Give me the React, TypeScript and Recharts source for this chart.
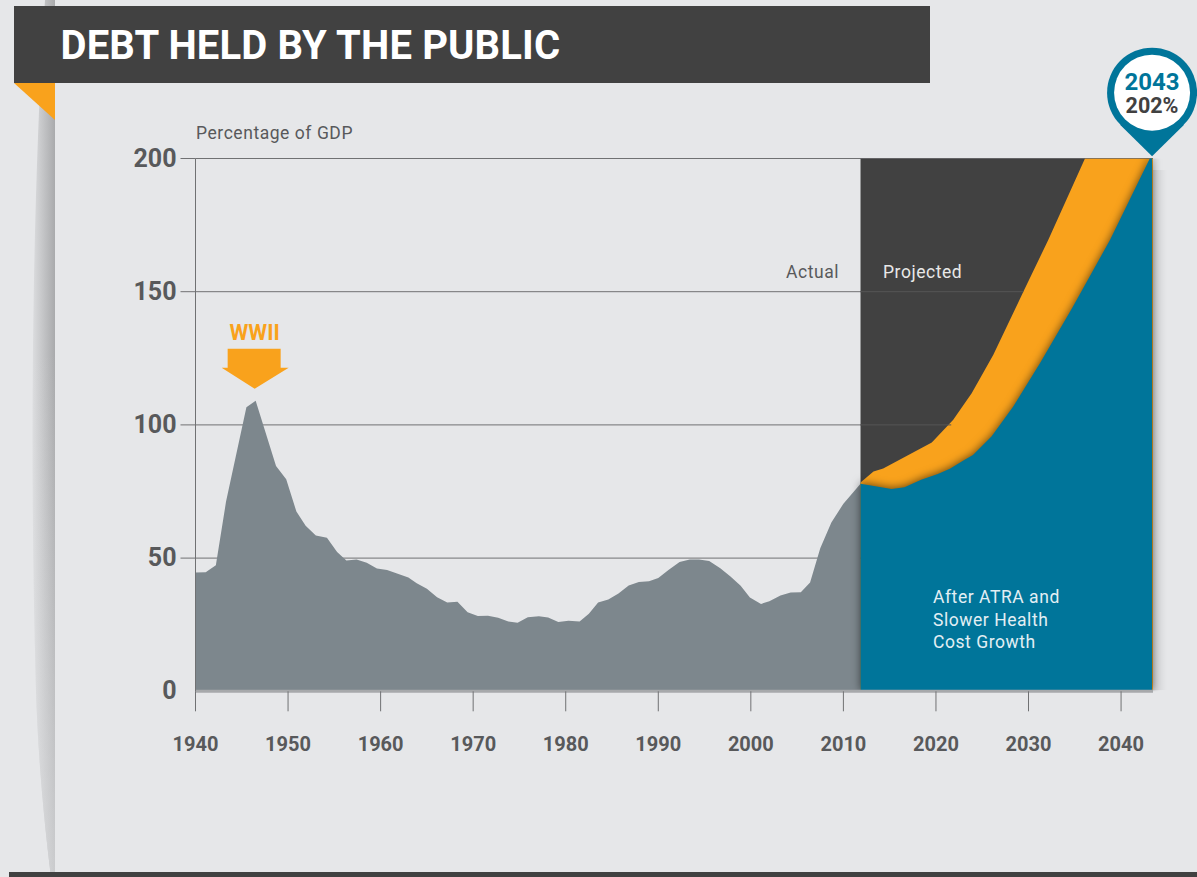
import { Area, ComposedChart, CartesianGrid, Line, ReferenceDot, XAxis, YAxis } from "recharts"

const FONT = "Roboto, sans-serif"
const PAGE = "#e6e7e9"
const DARK = "#414141"
const GREY = "#7d878d"
const BLUE = "#00759a"
const ORANGE = "#f9a21c"
const INK = "#58595b"
const RULE = "#707173"

const X_TICKS = [1940, 1950, 1960, 1970, 1980, 1990, 2000, 2010, 2020, 2030, 2040]
const Y_TICKS = [0, 50, 100, 150, 200]

// Historical debt, share of GDP
const actualYears = [
  1940, 1941.1, 1942.2, 1943.3, 1945.5, 1946.5, 1948.7, 1949.8, 1950.9, 1951.9, 1953, 1954.2, 1955.3,
  1956.3, 1957.4, 1958.5, 1959.6, 1960.7, 1963, 1963.9, 1965, 1966.1, 1967.2, 1968.3, 1969.4, 1970.5,
  1971.6, 1972.7, 1973.8, 1974.8, 1975.9, 1977.1, 1978.1, 1979.2, 1980.3, 1981.5, 1982.5, 1983.5,
  1984.6, 1985.7, 1986.8, 1987.9, 1989, 1990, 1991.1, 1992.3, 1993.4, 1994.4, 1995.5, 1996.7, 1997.8,
  1998.9, 1999.9, 2001.1, 2002, 2003.2, 2004.3, 2005.4, 2006.4, 2007.5, 2008.7, 2010, 2011.85,
]
const actualShare = [
  44.6, 44.7, 47.3, 71.2, 106.6, 109.1, 84.6, 79.6, 67.5, 62.1, 58.5, 57.6, 52.3,
  49.1, 49.5, 48.3, 46.1, 45.5, 42.7, 40.6, 38.5, 35.3, 33.3, 33.6, 29.7, 28.3,
  28.4, 27.6, 26.2, 25.7, 27.8, 28.2, 27.7, 26, 26.5, 26.2, 29.1, 33.3,
  34.5, 36.7, 39.7, 41, 41.3, 42.5, 45.5, 48.5, 49.5, 49.5, 48.9, 46.2, 43.1,
  39.6, 35.2, 32.8, 33.8, 36, 37.1, 37.2, 40.8, 53.7, 63.4, 70.4, 77.9,
]

// Projection after ATRA and slower health cost growth
const blueYears = [
  2011.85, 2013.3, 2015.2, 2016.6, 2018.4, 2020.2, 2021.5, 2023.1, 2024, 2026,
  2028.35, 2031.25, 2034.7, 2038.8, 2043.1, 2043.35,
]
const blueShare = [
  77.9, 77.1, 75.9, 76.6, 79.4, 81.6, 83.5, 86.9, 88.7, 95.6,
  106.9, 123.2, 143.8, 169.4, 200, 202,
]

// Wider projection without those assumptions; it leaves the scale at the top
const orangeYears = [
  2011.85, 2013.25, 2014.3, 2019.55, 2021.87, 2022.6, 2023.86, 2026.2, 2029.44, 2032.13, 2036.1, 2043.45,
]
const orangeShare = [78.4, 82.5, 83.6, 93.4, 101.9, 105.6, 111.9, 126.3, 150, 169.4, 200, 200]

const bandYears = [2011.85, 2043.45]
const bandTop = [200, 200]

// Gridlines stay faintly visible on the dark band, up to the orange edge
const rule150Years = [2011.85, 2029.44]
const rule150 = [150, 150]
const rule100Years = [2011.85, 2021.65]
const rule100 = [100, 100]

const zip = (xs: number[], ys: number[]) => xs.map((year, i) => ({ year, value: ys[i] }))

function YTick({ x, y, payload }: any) {
  return (
    <g>
      {payload.value !== 0 && <line x1={x - 15} x2={x} y1={y} y2={y} stroke={RULE} />}
      <text x={x - 19} y={y + 8} textAnchor="end" fontFamily={FONT} fontWeight={700} fontSize={25} fill={INK}>
        {payload.value}
      </text>
    </g>
  )
}

function WarArrow({ cx, cy }: any) {
  const tip = cy - 12
  return (
    <g>
      <text x={cx - 1} y={tip - 49} textAnchor="middle" fontFamily={FONT} fontWeight={700} fontSize={21.5} fill={ORANGE}>
        WWII
      </text>
      <polygon
        fill={ORANGE}
        points={`${cx - 28},${tip - 40} ${cx + 25},${tip - 40} ${cx + 25},${tip - 21} ${cx + 33},${tip - 21} ${cx - 1},${tip} ${cx - 34},${tip - 21} ${cx - 28},${tip - 21}`}
      />
    </g>
  )
}

function EndPin({ cx, cy }: any) {
  const tipY = cy + 3
  const midY = tipY - 63.5
  return (
    <g>
      <circle cx={cx} cy={midY} r={45} fill={BLUE} />
      <polygon points={`${cx},${tipY} ${cx - 32},${midY + 32} ${cx + 32},${midY + 32}`} fill={BLUE} />
      <circle cx={cx} cy={midY} r={38} fill="#fff" />
      <text x={cx} y={midY - 3} textAnchor="middle" fontFamily={FONT} fontWeight={700} fontSize={24} fill={BLUE}>
        2043
      </text>
      <text x={cx} y={midY + 20} textAnchor="middle" fontFamily={FONT} fontWeight={700} fontSize={21.5} fill={DARK}>
        202%
      </text>
    </g>
  )
}

function Backdrop() {
  const ribbon = "M45 0 C35 150 28 400 36 690 C38 760 45 830 51 877 L55 877 L55 0 Z"
  return (
    <svg width={1197} height={877} style={{ position: "absolute", left: 0, top: 0 }}>
      <defs>
        <linearGradient id="ribbon" x1="0" x2="1" y1="0" y2="0">
          <stop offset="0" stopColor="#dcdddf" />
          <stop offset="1" stopColor="#a9aaac" />
        </linearGradient>
        <linearGradient id="ribbonFade" x1="0" x2="0" y1="0" y2="1">
          <stop offset="0.4" stopColor={PAGE} stopOpacity={0} />
          <stop offset="1" stopColor={PAGE} stopOpacity={0.55} />
        </linearGradient>
        <linearGradient id="edgeShade" x1="0" x2="1" y1="0" y2="0">
          <stop offset="0" stopColor="#000" stopOpacity={0.1} />
          <stop offset="1" stopColor="#000" stopOpacity={0} />
        </linearGradient>
      </defs>
      <path d={ribbon} fill="url(#ribbon)" />
      <path d={ribbon} fill="url(#ribbonFade)" />
      <rect x={1153} y={170} width={14} height={520} fill="url(#edgeShade)" />
      <rect x={14} y={6} width={916} height={77} fill={DARK} />
      <polygon points="14,83 55,83 55,120" fill={ORANGE} />
      <rect x={9} y={872} width={1188} height={5} fill={DARK} />
      <text x={60.5} y={59} fontFamily={FONT} fontWeight={700} fontSize={40} letterSpacing={0.15} fill="#fff">
        DEBT HELD BY THE PUBLIC
      </text>
    </svg>
  )
}

function Notes() {
  const note = { fontFamily: FONT, fontSize: 17.5, letterSpacing: 0.55 }
  return (
    <svg width={1197} height={877} style={{ position: "absolute", left: 0, top: 0, pointerEvents: "none" }}>
      <text x={196} y={139} {...note} fill={INK}>Percentage of GDP</text>
      <text x={786} y={278} {...note} fill={INK}>Actual</text>
      <text x={883} y={278} {...note} fill="#e8e8e8">Projected</text>
      <text x={933} y={603} {...note} fill="#e3eff4">After ATRA and</text>
      <text x={933} y={626} {...note} fill="#e3eff4">Slower Health</text>
      <text x={933} y={648} {...note} fill="#e3eff4">Cost Growth</text>
    </svg>
  )
}

export default function App() {
  return (
    <div style={{ position: "absolute", left: 0, top: 0, width: 1197, height: 877, overflow: "hidden", background: PAGE }}>
      <Backdrop />
      <div style={{ position: "absolute", left: 0, top: 0 }}>
        <ComposedChart width={1197} height={877} margin={{ top: 158.5, right: 44, bottom: 0, left: 0 }} style={{ overflow: "visible" }}>
          <CartesianGrid horizontal vertical={false} stroke={RULE} syncWithTicks />
          <XAxis
            dataKey="year"
            type="number"
            domain={[1940, 2043.45]}
            ticks={X_TICKS}
            height={185.7}
            interval={0}
            tickSize={20}
            tickMargin={25}
            axisLine={{ stroke: "#a7a9ab", strokeWidth: 3 }}
            tickLine={{ stroke: RULE }}
            tick={{ fontFamily: FONT, fontWeight: 700, fontSize: 20, fill: INK }}
          />
          <YAxis
            type="number"
            domain={[0, 200]}
            ticks={Y_TICKS}
            width={195.5}
            allowDataOverflow
            tickSize={0}
            tickMargin={0}
            tickLine={false}
            axisLine={{ stroke: RULE }}
            tick={YTick}
          />
          <Area data={zip(actualYears, actualShare)} dataKey="value" type="linear" stroke="none" fill={GREY} fillOpacity={1} isAnimationActive={false} />
          <Area data={zip(bandYears, bandTop)} dataKey="value" type="linear" stroke="none" fill={DARK} fillOpacity={1} isAnimationActive={false} />
          <Line data={zip(rule150Years, rule150)} dataKey="value" type="linear" stroke="#565656" strokeWidth={1} dot={false} isAnimationActive={false} />
          <Line data={zip(rule100Years, rule100)} dataKey="value" type="linear" stroke="#565656" strokeWidth={1} dot={false} isAnimationActive={false} />
          <Area data={zip(orangeYears, orangeShare)} dataKey="value" type="linear" stroke="none" fill={ORANGE} fillOpacity={1} isAnimationActive={false} />
          <Area
            data={zip(blueYears, blueShare)}
            dataKey="value"
            type="linear"
            stroke="none"
            fill={BLUE}
            fillOpacity={1}
            style={{ filter: "drop-shadow(0 -1px 4px rgba(0,0,0,0.55))" }}
            isAnimationActive={false}
          />
          <ReferenceDot x={1946.5} y={109.1} ifOverflow="visible" shape={WarArrow} />
          <ReferenceDot x={2043.35} y={202} ifOverflow="visible" shape={EndPin} />
        </ComposedChart>
      </div>
      <Notes />
    </div>
  )
}
